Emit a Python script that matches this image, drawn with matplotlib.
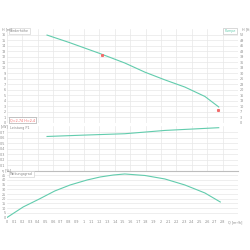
import numpy as np
import matplotlib.pyplot as plt

# ---- data ----
q_head = [0.52, 0.8, 1.0, 1.2, 1.53, 1.79, 2.05, 2.31, 2.57, 2.75]
head = [15.9, 14.6, 13.6, 12.6, 10.85, 9.2, 7.8, 6.5, 4.8, 2.9]
q_duty = [1.23, 2.74]
h_duty = [12.3, 2.4]

q_power = [0.52, 1.0, 1.53, 2.05, 2.4, 2.75]
power = [0.62, 0.645, 0.67, 0.73, 0.755, 0.78]

q_eff = [0, 0.21, 0.42, 0.62, 0.82, 1.04, 1.21, 1.38, 1.53, 1.79, 2.05, 2.31, 2.57, 2.77]
eff = [0, 11.2, 19.7, 28.2, 34.6, 39.9, 43.1, 45.2, 46.3, 44.7, 41.0, 34.6, 26.1, 16.5]

q_ticks = np.round(np.arange(0, 2.81, 0.1), 1)
h_ticks = np.arange(0, 17, 1)
p_ticks = np.round(np.arange(0.1, 0.71, 0.1), 1)
e_ticks = np.arange(0, 46, 5)

CURVE = '#62ccad'
RED = '#f26b6b'
GRID = '#e8e8e8'
TXT = '#8a8a8a'
FS = 2.4

fig = plt.figure(figsize=(2.5, 2.5), dpi=100)
L, W = 7 / 250, 231 / 250


def setup(ax, yt, ylim):
    ax.set_xlim(0, 3.0)
    ax.set_ylim(*ylim)
    ax.set_yticks(yt)
    ax.set_xticks(np.arange(0, 3.01, 0.2))
    ax.grid(True, color=GRID, lw=0.5)
    ax.tick_params(length=0, labelsize=FS, colors=TXT, pad=1)
    for s in ax.spines.values():
        s.set_visible(False)
    ax.set_axisbelow(True)


def boxtext(ax, x, y, s, color, edge, va='top'):
    ax.text(x, y, s, transform=ax.transAxes, fontsize=FS, color=color, va=va, ha='left',
            bbox=dict(boxstyle='square,pad=0.3', fc='white', ec=edge, lw=0.4))


# top panel: head
ax1 = fig.add_axes([L, 1 - 123 / 250, W, 94 / 250])
setup(ax1, h_ticks, (0, 17))
ax1.set_xticklabels([])
ax1.set_yticklabels([str(v) for v in h_ticks])
ax1.plot(q_head, head, color=CURVE, lw=0.8)
ax1.plot(q_duty, h_duty, 's', color=RED, ms=1.2)
ax2 = ax1.twinx()
ax2.set_ylim(0, 17)
ax2.set_yticks(h_ticks)
ax2.set_yticklabels([f'{v * 3.281:.0f}' for v in h_ticks])
ax2.tick_params(length=0, labelsize=FS, colors=TXT, pad=1)
for s in ax2.spines.values():
    s.set_visible(False)
fig.text(2 / 250, 1 - 29 / 250, 'H [m]', fontsize=FS, color=TXT, va='center')
fig.text(242 / 250, 1 - 29 / 250, 'H [ft]', fontsize=FS, color=TXT, va='center')
boxtext(ax1, 0.012, 0.995, 'Förderhöhe', TXT, '#cccccc')
boxtext(ax1, 0.012, 0.01, 'Q=2,74 H=2,4', RED, '#999999', va='bottom')
boxtext(ax1, 0.94, 0.995, 'Pumpe', CURVE, '#bbbbbb')

# middle panel: power
ax3 = fig.add_axes([L, 1 - 170.5 / 250, W, 45 / 250])
setup(ax3, p_ticks, (0, 0.82))
ax3.set_xticklabels([])
ax3.set_yticklabels([f'{v:.1f}' for v in p_ticks])
ax3.plot(q_power, power, color=CURVE, lw=0.8)
fig.text(1 / 250, 1 - 126.5 / 250, '[kW]', fontsize=FS, color=TXT, va='center')
boxtext(ax3, 0.012, 0.995, 'Leistung P1', TXT, 'white')

# bottom panel: efficiency
ax4 = fig.add_axes([L, 1 - 217.5 / 250, W, 47 / 250])
setup(ax4, e_ticks, (0, 50))
ax4.set_xticks(q_ticks)
ax4.set_xticklabels([f'{v:g}' for v in q_ticks])
ax4.set_xticks(np.arange(0, 3.01, 0.2), minor=True)
ax4.xaxis.grid(False, which='major')
ax4.xaxis.grid(True, which='minor', color=GRID, lw=0.5)
ax4.tick_params(axis='x', which='both', length=0, pad=2)
ax4.set_yticklabels([str(v) for v in e_ticks])
ax4.spines['top'].set_visible(True)
ax4.spines['top'].set_color('#bdbdbd')
ax4.spines['top'].set_linewidth(0.8)
ax4.plot(q_eff, eff, color=CURVE, lw=0.8)
fig.text(2 / 250, 1 - 171.3 / 250, 'η [%]', fontsize=FS, color=TXT, va='center')
fig.text(235 / 250, 1 - 222 / 250, 'Q [m³/h]', fontsize=FS, color=TXT, va='center', ha='center')
boxtext(ax4, 0.012, 0.96, 'Wirkungsgrad', TXT, '#cccccc')

fig.savefig('out.png', dpi=100)
